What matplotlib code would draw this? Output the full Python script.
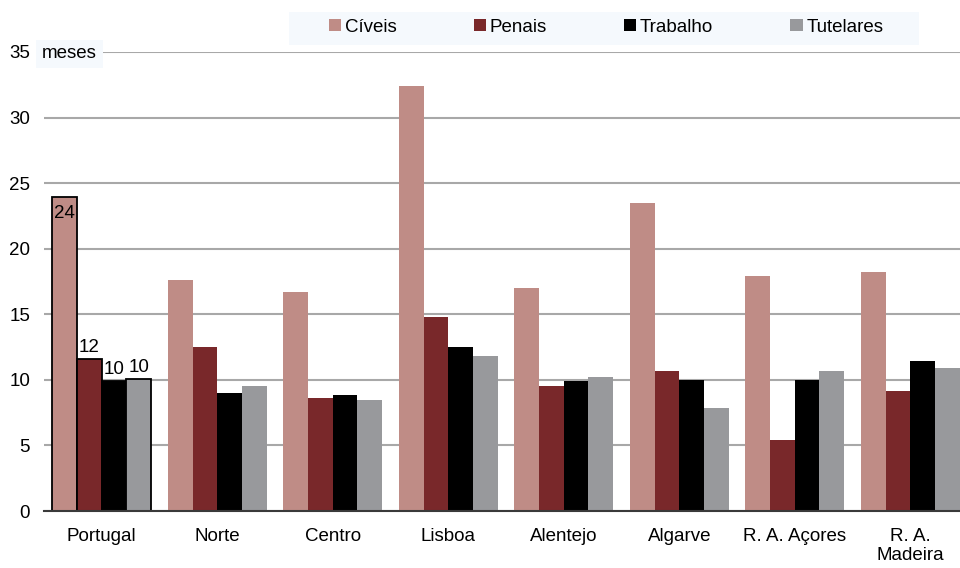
import numpy as np
import matplotlib.pyplot as plt
from matplotlib.patches import Patch, Rectangle

plt.rcParams['font.family'] = ['Liberation Sans', 'DejaVu Sans']

# regions and mean durations (months) per type of process
regioes = ["Portugal", "Norte", "Centro", "Lisboa", "Alentejo", "Algarve",
           "R. A. Açores", "R. A.\nMadeira"]
civeis = [23.95, 17.6, 16.7, 32.4, 17.0, 23.5, 17.9, 18.2]
penais = [11.6, 12.5, 8.6, 14.8, 9.5, 10.7, 5.4, 9.15]
trabalho = [9.9, 9.0, 8.85, 12.5, 9.9, 10.0, 10.0, 11.4]
tutelares = [10.1, 9.5, 8.45, 11.8, 10.2, 7.85, 10.7, 10.9]

series = [("Cíveis", civeis, "#bf8c86"),
          ("Penais", penais, "#79282a"),
          ("Trabalho", trabalho, "#000000"),
          ("Tutelares", tutelares, "#98999c")]

fs = 13.5
fig = plt.figure(figsize=(9.6, 5.68), dpi=100)
ax = fig.add_axes([44 / 960, 57 / 568, 916 / 960, 459 / 568])

x = np.arange(len(regioes))
w = 0.214
handles = []
for i, (nome, vals, cor) in enumerate(series):
    pos = x + (i - 1.5) * w
    bars = ax.bar(pos, vals, width=w, color=cor, zorder=3)
    handles.append(Patch(facecolor=cor, label=nome))
    # national total is outlined and labelled
    bars[0].set_edgecolor("black")
    bars[0].set_linewidth(1.3)
    if i == 0:
        ax.annotate(f"{vals[0]:.0f}", (pos[0], vals[0]), xytext=(0, -6),
                    textcoords="offset points", ha="center", va="top", fontsize=fs)
    else:
        ax.annotate(f"{vals[0]:.0f}", (pos[0], vals[0]), xytext=(0, 2),
                    textcoords="offset points", ha="center", va="bottom", fontsize=fs)

ax.set_ylim(0, 35)
ax.set_xlim(-0.5, 7.5 - 8 / 115.5)
ax.set_yticks(range(0, 36, 5))
ax.set_xticks(x)
ax.set_xticklabels(regioes)
ax.tick_params(axis="y", length=0, pad=10, labelsize=fs)
ax.tick_params(axis="x", length=0, pad=12, labelsize=fs)
ax.grid(axis="y", color="#a8a8a8", linewidth=1.5, zorder=0)
for s in ["top", "right", "left"]:
    ax.spines[s].set_visible(False)
ax.spines["bottom"].set_color("#3a3a3a")
ax.spines["bottom"].set_linewidth(1.5)
ax.spines["bottom"].set_zorder(4)

fig.text(42 / 960, 1 - 54 / 568, "meses", fontsize=fs, va="center", ha="left",
         bbox=dict(facecolor="#f5f9fd", edgecolor="none", pad=4))

# legend background band
fig.patches.append(Rectangle((289 / 960, 1 - 45 / 568), 630 / 960, 33 / 568,
                             transform=fig.transFigure, facecolor="#f5f9fd",
                             edgecolor="none", zorder=0))
fig.legend(handles=handles, loc="center left", bbox_to_anchor=(329 / 960, 1 - 27 / 568),
           ncol=4, frameon=False, fontsize=fs, handlelength=0.66, handleheight=0.66,
           handletextpad=0.2, columnspacing=4.1, borderpad=0, borderaxespad=0)

fig.savefig("out.png", dpi=100)
